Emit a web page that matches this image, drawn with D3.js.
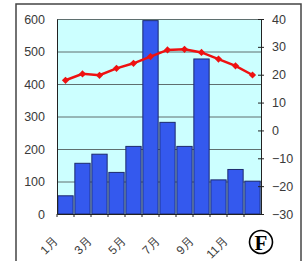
<!DOCTYPE html>
<html><head><meta charset="utf-8">
<script src="https://cdn.jsdelivr.net/npm/d3@7"></script>
<style>body{margin:0;background:#fff;}svg{display:block;font-family:"Liberation Sans",Arial,sans-serif;}</style>
</head><body>
<svg id="c" width="307" height="261"></svg>
<script>
const months = ["1月","2月","3月","4月","5月","6月","7月","8月","9月","10月","11月","12月"];
const precip = [56, 156, 184, 128, 208, 595, 282, 208, 477, 105, 137, 101];
const temp = [18.0, 20.3, 19.8, 22.3, 24.1, 26.5, 28.9, 29.1, 28.0, 25.6, 23.2, 19.9];
const leftTicks = [0, 100, 200, 300, 400, 500, 600];
const rightTicks = [-30, -20, -10, 0, 10, 20, 30, 40];
const xLabels = ["1月","3月","5月","7月","9月","11月"];

const svg = d3.select("#c");
const L = 57, R = 261, T = 19, B = 214;

// outer frame
svg.append("rect").attr("x",16).attr("y",4).attr("width",285).attr("height",270)
  .attr("fill","#fff").attr("stroke","#444").attr("stroke-width",1.5);

const x = d3.scaleBand().domain(months).range([L, R]).paddingInner(0.1).paddingOuter(0.05);
const yL = d3.scaleLinear().domain([0, 600]).range([B, T]);
const yR = d3.scaleLinear().domain([-30, 40]).range([B, T]);

// plot background
svg.append("rect").attr("x",L).attr("y",T).attr("width",R-L).attr("height",B-T).attr("fill","#ccffff");

// gridlines
svg.append("g").selectAll("line").data(leftTicks.filter(d=>d>0)).join("line")
  .attr("x1",L).attr("x2",R).attr("y1",d=>yL(d)+0.5).attr("y2",d=>yL(d)+0.5)
  .attr("stroke","#5f6f6f").attr("stroke-width",1);

// bars
svg.append("g").selectAll("rect").data(precip).join("rect")
  .attr("x",(d,i)=>x(months[i])).attr("width",x.bandwidth())
  .attr("y",d=>yL(d)).attr("height",d=>B-yL(d))
  .attr("fill","#3459ee").attr("stroke","#1c2a6e").attr("stroke-width",1);

// axes
const axL = d3.axisLeft(yL).tickValues(leftTicks).tickSize(0).tickPadding(12).tickFormat(d3.format("d"));
const gL = svg.append("g").attr("transform",`translate(${L},0)`).call(axL);
gL.select(".domain").attr("stroke","#222");
gL.selectAll("text").attr("font-size","12.5px").attr("fill","#3a3a3a").attr("font-family","Liberation Sans, Arial, sans-serif");

const axR = d3.axisRight(yR).tickValues(rightTicks).tickSize(3).tickPadding(8)
  .tickFormat(d=> d<0 ? "\u2212"+Math.abs(d) : String(d));
const gR = svg.append("g").attr("transform",`translate(${R},0)`).call(axR);
gR.select(".domain").attr("stroke","#222");
gR.selectAll(".tick line").attr("x1",-3).attr("x2",3).attr("stroke","#222");
gR.selectAll("text").attr("font-size","12.5px").attr("fill","#3a3a3a").attr("font-family","Liberation Sans, Arial, sans-serif");

const axB = d3.axisBottom(x).tickSize(0).tickFormat(()=> "");
const gB = svg.append("g").attr("transform",`translate(0,${B})`).call(axB);
gB.select(".domain").attr("stroke","#222");
svg.append("g").selectAll("line").data(months).join("line")
  .attr("x1",d=>x(d)-x.step()*x.paddingInner()/2).attr("x2",d=>x(d)-x.step()*x.paddingInner()/2)
  .attr("y1",B).attr("y2",B+3).attr("stroke","#222");

// x labels
svg.append("g").selectAll("text").data(xLabels).join("text")
  .attr("transform",d=>`translate(${x(d)+x.bandwidth()/2-7},${B+28}) rotate(-45)`)
  .attr("text-anchor","end").attr("font-size","12px").attr("fill","#3a3a3a")
  .text(d=>d);

// temperature line
const line = d3.line().x((d,i)=>x(months[i])+x.bandwidth()/2).y(d=>yR(d));
svg.append("path").datum(temp).attr("d",line).attr("fill","none")
  .attr("stroke","#ee1111").attr("stroke-width",2.5);
svg.append("g").selectAll("path").data(temp).join("path")
  .attr("d",d3.symbol(d3.symbolSquare, 26)())
  .attr("transform",(d,i)=>`translate(${x(months[i])+x.bandwidth()/2},${yR(d)}) rotate(45)`)
  .attr("fill","#ee1111");

// circled F
svg.append("circle").attr("cx",261).attr("cy",242).attr("r",11.5).attr("fill","none")
  .attr("stroke","#000").attr("stroke-width",1.6);
svg.append("text").attr("x",261).attr("y",249.5).attr("text-anchor","middle")
  .attr("font-family","Liberation Serif, DejaVu Serif, serif").attr("font-weight","bold")
  .attr("font-size","21px").attr("fill","#000").text("F");
</script>
</body></html>
